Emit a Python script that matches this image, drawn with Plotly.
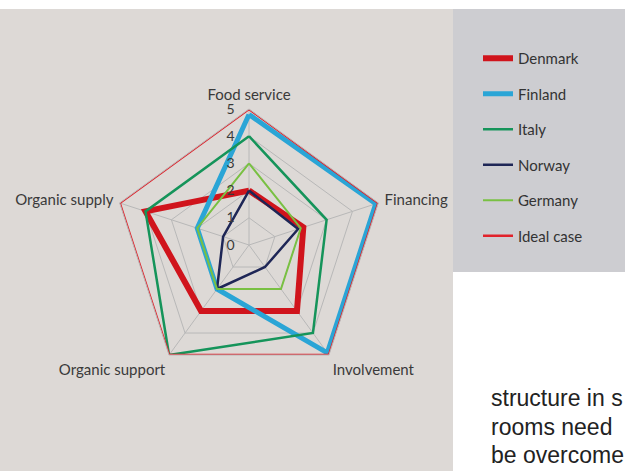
import plotly.graph_objects as go

categories = ["Food service", "Financing", "Involvement", "Organic support", "Organic supply"]
series_names = ["Denmark", "Finland", "Italy", "Norway", "Germany", "Ideal case"]
denmark = [2, 2.1, 3, 3, 4]
finland = [4.8, 4.9, 4.9, 2, 2]
italy = [4, 3, 4, 5, 4]
norway = [2, 1.9, 1, 2, 1]
germany = [3, 2, 2, 2, 2]
ideal = [5, 5, 5, 5, 5]
radial_ticks = [0, 1, 2, 3, 4, 5]
side_text = ["structure in s", "rooms need", "be overcome"]

values = [denmark, finland, italy, norway, germany, ideal]
colors = ["#d0141c", "#2aa5d6", "#15945a", "#1e2656", "#79c043", "#e1222b"]
widths = [6, 5, 2.5, 2.5, 2, 2.5]

fig = go.Figure()
for name, vals, col, w in zip(series_names, values, colors, widths):
    fig.add_trace(go.Scatterpolar(
        r=vals + vals[:1],
        theta=categories + categories[:1],
        mode="lines",
        name=name,
        legendgroup=name,
        line=dict(color=col, width=w),
    ))

W, H = 625, 471
cx, cy, R = 249, 245, 136

fig.update_layout(
    width=W, height=H,
    margin=dict(l=0, r=0, t=0, b=0),
    paper_bgcolor="white",
    plot_bgcolor="rgba(0,0,0,0)",
    font=dict(family="Lato, Noto Sans, sans-serif", color="#333333"),
    polar=dict(
        domain=dict(x=[(cx - R) / W, (cx + R) / W], y=[(H - cy - R) / H, (H - cy + R) / H]),
        gridshape="linear",
        bgcolor="rgba(0,0,0,0)",
        angularaxis=dict(
            direction="clockwise", rotation=90,
            tickfont=dict(size=15, color="#3a3a3a"),
            showline=True, linecolor="#b8b8b8", linewidth=1,
            gridcolor="#b8b8b8", gridwidth=1,
            ticks="outside", ticklen=3, tickcolor="rgba(0,0,0,0)",
        ),
        radialaxis=dict(
            range=[0, 5], tickvals=radial_ticks,
            angle=90, side="counterclockwise", tickangle=90,
            showline=False, gridcolor="#b8b8b8", gridwidth=1,
            tickfont=dict(size=14, color="#3a3a3a"),
            ticks="outside", ticklen=9, tickcolor="rgba(0,0,0,0)",
        ),
    ),
    legend=dict(
        x=478 / W, y=(H - 42) / H, xanchor="left", yanchor="top",
        bgcolor="rgba(0,0,0,0)",
        font=dict(size=15, color="#333333"),
        tracegroupgap=13,
        itemwidth=30,
    ),
    shapes=[
        dict(type="rect", xref="paper", yref="paper", x0=0, x1=453 / W,
             y0=0, y1=(H - 9) / H, fillcolor="#ddd9d6", line=dict(width=0), layer="below"),
        dict(type="rect", xref="paper", yref="paper", x0=453 / W, x1=1,
             y0=(H - 272) / H, y1=(H - 9) / H, fillcolor="#cdcdd1", line=dict(width=0), layer="below"),
    ],
)

for i, t in enumerate(side_text):
    fig.add_annotation(
        x=489 / W, y=(H - (398 + 28.5 * i)) / H, xref="paper", yref="paper",
        text=t, showarrow=False, xanchor="left", yanchor="middle",
        font=dict(family="Liberation Sans, Arial, sans-serif", size=23, color="#222222"),
    )

fig.write_html("out.html")
